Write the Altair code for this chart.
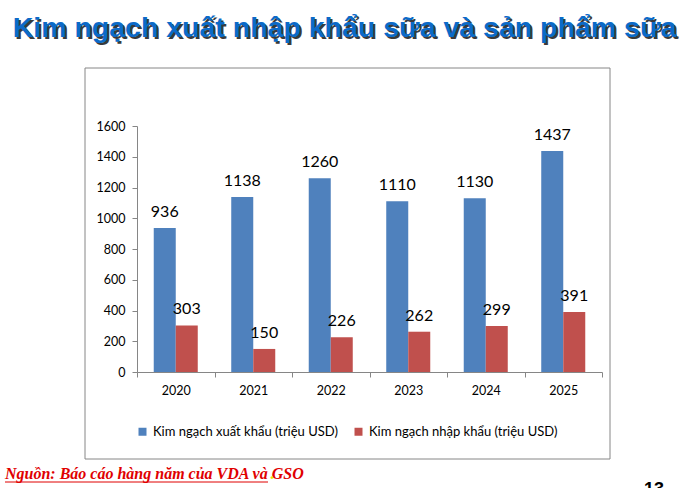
import altair as alt
import pandas as pd

title_text = "Kim ngạch xuất nhập khẩu sữa và sản phẩm sữa"
source_text = "Nguồn: Báo cáo hàng năm của VDA và GSO"
page_text = "13"

years = ["2020", "2021", "2022", "2023", "2024", "2025"]
series = ["Kim ngạch xuất khẩu (triệu USD)", "Kim ngạch nhập khẩu (triệu USD)"]
export_vals = [936, 1138, 1260, 1110, 1130, 1437]
import_vals = [303, 150, 226, 262, 299, 391]
colors = ["#4F81BD", "#C0504D"]
y_ticks = [0, 200, 400, 600, 800, 1000, 1200, 1400, 1600]

rows = []
for i, yr in enumerate(years):
    rows.append({"year": yr, "series": series[0], "value": export_vals[i]})
    rows.append({"year": yr, "series": series[1], "value": import_vals[i]})
df = pd.DataFrame(rows)

AX = "#868686"
FONT = "Lato"

x_enc = alt.X("year:N", sort=years,
              scale=alt.Scale(paddingInner=0, paddingOuter=0),
              axis=alt.Axis(title=None, labelAngle=0, tickBand="extent",
                            domainColor=AX, tickColor=AX, tickSize=5,
                            labelFont=FONT, labelFontSize=12.5, labelColor="#000000",
                            labelPadding=7, grid=False))
xoff = alt.XOffset("series:N", sort=series,
                   scale=alt.Scale(paddingInner=0, paddingOuter=0.761))
y_enc = alt.Y("value:Q",
              scale=alt.Scale(domain=[0, 1600], nice=False),
              axis=alt.Axis(title=None, values=y_ticks, tickCount=9, grid=False, format="d",
                            labelOverlap=False,
                            domainColor=AX, tickColor=AX, tickSize=5,
                            labelFont=FONT, labelFontSize=12.5, labelColor="#000000",
                            labelPadding=7))

color_enc = alt.Color("series:N", sort=series,
                      scale=alt.Scale(domain=series, range=colors),
                      legend=alt.Legend(title=None, orient="none", direction="horizontal",
                                        legendX=-1, legendY=299,
                                        symbolType="square", symbolSize=64,
                                        symbolStrokeWidth=0, labelLimit=400,
                                        labelFont=FONT, labelFontSize=13,
                                        labelColor="#000000", labelOffset=4,
                                        columnPadding=14))

base = alt.Chart(df)
bars = base.mark_bar().encode(x=x_enc, xOffset=xoff, y=y_enc, color=color_enc)
labels = base.mark_text(baseline="alphabetic", dy=-11, font=FONT, fontSize=16,
                        color="#000000").encode(
    x=x_enc, xOffset=xoff, y=y_enc, text="value:Q")

one = pd.DataFrame({"t": [title_text]})
frame = alt.Chart(one).mark_rect(fill=None, stroke=AX, strokeWidth=1).encode(
    x=alt.value(-52), x2=alt.value(473), y=alt.value(-58), y2=alt.value(333))

title_shadow = alt.Chart(one).mark_text(font="Liberation Sans", fontWeight="bold",
                                        fontSize=28.5, color="#3a3a3a", align="center",
                                        baseline="alphabetic").encode(
    x=alt.value(209.5), y=alt.value(-87), text="t:N")
title = alt.Chart(one).mark_text(font="Liberation Sans", fontWeight="bold",
                                 fontSize=28.5, color="#0B6AC8", align="center",
                                 baseline="alphabetic").encode(
    x=alt.value(207.5), y=alt.value(-89), text="t:N")

src_df = pd.DataFrame({"t": [source_text]})
source = alt.Chart(src_df).mark_text(font="Liberation Serif", fontWeight="bold",
                                     fontStyle="italic", fontSize=16, color="#E00000",
                                     align="left", baseline="alphabetic").encode(
    x=alt.value(-132), y=alt.value(353), text="t:N")
underline = alt.Chart(src_df).mark_rule(color="#E00000", strokeWidth=1).encode(
    x=alt.value(-132), x2=alt.value(131), y=alt.value(356))
dot = alt.Chart(pd.DataFrame({"t": ["."]})).mark_text(
    font="Liberation Serif", fontWeight="bold", fontSize=16, color="#E8E000",
    align="left", baseline="alphabetic").encode(x=alt.value(133), y=alt.value(353), text="t:N")

page = alt.Chart(pd.DataFrame({"t": [page_text]})).mark_text(
    font="Liberation Sans", fontWeight="bold", fontSize=18, color="#000000",
    align="center", baseline="alphabetic").encode(x=alt.value(517), y=alt.value(369), text="t:N")

chart = alt.layer(frame, bars, labels, title_shadow, title, source, underline, dot, page).properties(
    width=465, height=246,
    padding={"left": 137, "top": 126, "right": 88, "bottom": 116},
    autosize=alt.AutoSizeParams(type="none"),
    background="#FFFFFF",
).configure_view(stroke=None)

chart.save("out.html", embed_options={"renderer": "svg", "actions": False})
